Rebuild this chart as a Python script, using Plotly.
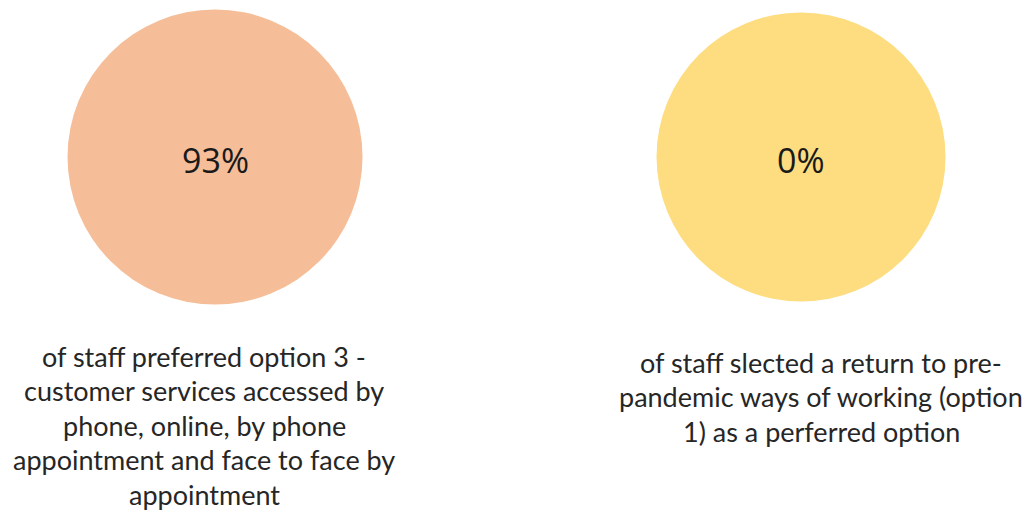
import plotly.graph_objects as go

# Data
categories = ["Option 3 preferred", "Return to pre-pandemic (option 1)"]
percent_values = [93, 0]
percent_labels = ["93%", "0%"]
descriptions = [
    ["of staff preferred option 3 -",
     "customer services accessed by",
     "phone, online, by phone",
     "appointment and face to face by",
     "appointment"],
    ["of staff slected a return to pre-",
     "pandemic ways of working (option",
     "1) as a perferred option"],
]
circle_colors = ["#F5BE98", "#FDDD80"]
circle_sizes = [295, 289]

W, H = 1025, 519

fig = go.Figure()
fig.add_trace(go.Scatter(
    x=[0, 1],
    y=[0, 0],
    mode="markers",
    marker=dict(size=circle_sizes, color=circle_colors, opacity=1, line=dict(width=0)),
    customdata=percent_values,
    hovertext=categories,
    hoverinfo="text",
    cliponaxis=False,
    showlegend=False,
))

for i, lab in enumerate(percent_labels):
    fig.add_annotation(
        x=i, xref="x", y=0, yref="y", yshift=-3,
        text=lab, showarrow=False,
        xanchor="center", yanchor="middle",
        font=dict(family="Open Sans", size=34, color="#1a1a1a"),
    )

xshifts = [-11, 20]
first_line_y = [356, 362]
line_gap = 34.5
for i, lines in enumerate(descriptions):
    for j, line in enumerate(lines):
        fig.add_annotation(
            x=i, xref="x",
            y=1 - first_line_y[i] / H, yref="paper",
            yshift=-j * line_gap,
            xshift=xshifts[i],
            text=line,
            showarrow=False,
            xanchor="center", yanchor="middle",
            font=dict(family="Lato", size=27, color="#262626"),
        )

fig.update_layout(
    width=W, height=H,
    margin=dict(l=0, r=0, t=0, b=0),
    paper_bgcolor="white",
    plot_bgcolor="white",
    xaxis=dict(range=[-0.3669, 1.3822], visible=False, fixedrange=True),
    yaxis=dict(range=[-2.306, 1.0], visible=False, fixedrange=True),
)

fig.write_html(
    "out.html",
    config={"displayModeBar": False},
    post_script="document.body.style.margin='0';document.body.style.overflow='hidden';",
)
